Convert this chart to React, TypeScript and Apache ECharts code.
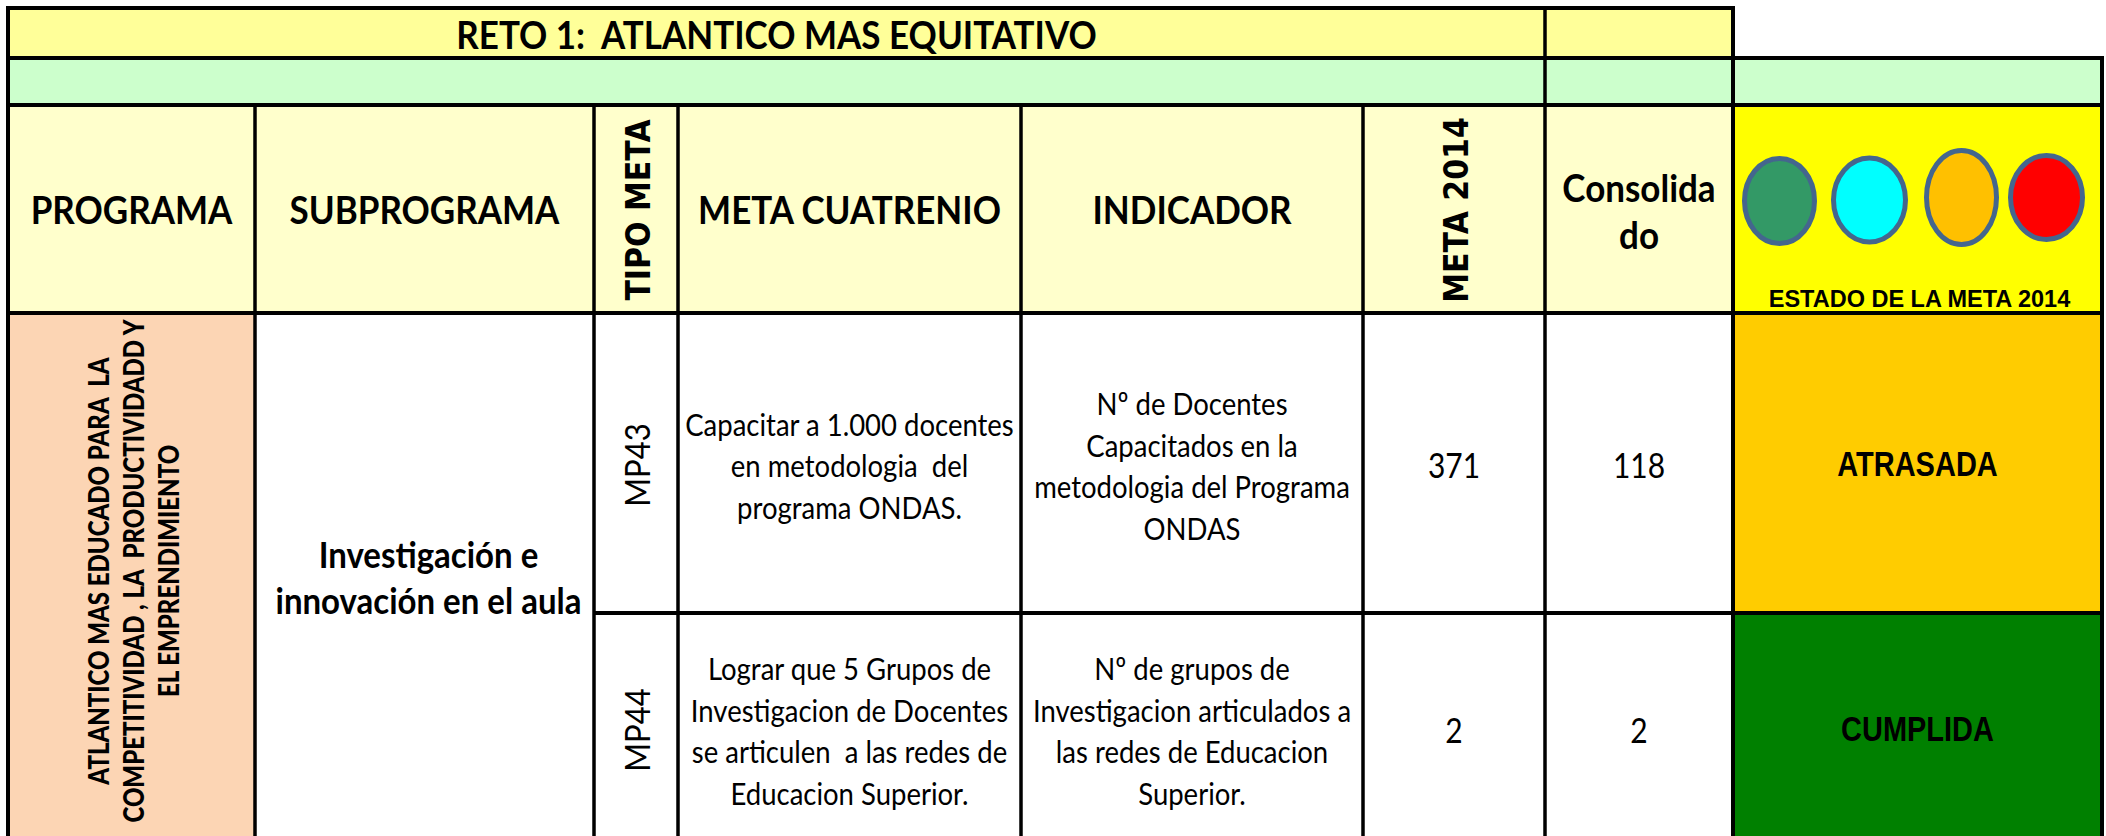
import React, { useEffect, useRef } from "react";
import * as echarts from "echarts";

// ---------- data ----------
const TITLE = "RETO 1:  ATLANTICO MAS EQUITATIVO";
const HEADERS = ["PROGRAMA", "SUBPROGRAMA", "TIPO META", "META CUATRENIO", "INDICADOR", "META 2014", "Consolida\ndo"];
const ESTADO_LABEL = "ESTADO DE LA META 2014";
const ESTADO_LEGEND_COLORS = ["#339966", "#00FFFF", "#FFC000", "#FF0000"];
const PROGRAMA = "ATLANTICO MAS EDUCADO PARA  LA\nCOMPETITIVIDAD , LA  PRODUCTIVIDADD Y\nEL EMPRENDIMIENTO";
const SUBPROGRAMA = "Investigación e\ninnovación en el aula";
const TIPO_META = ["MP43", "MP44"];
const META_CUATRENIO = [
  "Capacitar a 1.000 docentes\nen metodologia  del\nprograma ONDAS.",
  "Lograr que 5 Grupos de\nInvestigacion de Docentes\nse articulen  a las redes de\nEducacion Superior.",
];
const INDICADOR = [
  "Nº de Docentes\nCapacitados en la\nmetodologia del Programa\nONDAS",
  "Nº de grupos de\nInvestigacion articulados a\nlas redes de Educacion\nSuperior.",
];
const META_2014 = [371, 2];
const CONSOLIDADO = [118, 2];
const ESTADO = ["ATRASADA", "CUMPLIDA"];
const ESTADO_FILL = ["#FFCC00", "#008000"];

// ---------- layout ----------
const COLS = [8, 255, 594, 678, 1021, 1363, 1545, 1733, 2102];
const ROWS = [8, 58, 105, 313, 613, 848];
const ELLIPSES = [
  [1779.5, 201, 35, 42.5],
  [1869.5, 200, 36, 42],
  [1961.5, 197.5, 35, 47],
  [2046.5, 197.5, 36, 42],
];

const CAL = "Lato";

function txt(text: string, x: number, y: number, o: any = {}) {
  const sy = o.sy || 1;
  const lh = o.lh || Math.round((o.size || 26) * 1.25);
  return {
    type: "text",
    x,
    y,
    rotation: o.rotation || 0,
    scaleY: sy,
    z: 10,
    style: {
      text,
      fill: "#000",
      fontFamily: o.family || CAL,
      fontSize: o.size || 26,
      fontWeight: o.weight || "normal",
      align: "center",
      verticalAlign: "middle",
      lineHeight: lh / sy,
    },
  };
}

function rect(x1: number, y1: number, x2: number, y2: number, fill: string) {
  return { type: "rect", z: 1, shape: { x: x1, y: y1, width: x2 - x1, height: y2 - y1 }, style: { fill } };
}

function line(x1: number, y1: number, x2: number, y2: number, w = 3) {
  return { type: "line", z: 20, shape: { x1, y1, x2, y2 }, style: { stroke: "#000", lineWidth: w } };
}

function buildGraphic() {
  const g: any[] = [];
  const cx = (i: number) => (COLS[i] + COLS[i + 1]) / 2;
  const cy = (i: number) => (ROWS[i] + ROWS[i + 1]) / 2;

  // fills
  g.push(rect(COLS[0], ROWS[0], COLS[7], ROWS[1], "#FFFF99"));
  g.push(rect(COLS[0], ROWS[1], COLS[8], ROWS[2], "#CCFFCC"));
  g.push(rect(COLS[0], ROWS[2], COLS[7], ROWS[3], "#FFFFCC"));
  g.push(rect(COLS[7], ROWS[2], COLS[8], ROWS[3], "#FFFF00"));
  g.push(rect(COLS[0], ROWS[3], COLS[1], ROWS[5], "#FCD5B4"));
  g.push(rect(COLS[1], ROWS[3], COLS[7], ROWS[5], "#FFFFFF"));
  g.push(rect(COLS[7], ROWS[3], COLS[8], ROWS[4], ESTADO_FILL[0]));
  g.push(rect(COLS[7], ROWS[4], COLS[8], ROWS[5], ESTADO_FILL[1]));

  // lines
  g.push(line(COLS[0], ROWS[0], COLS[7], ROWS[0], 4));
  g.push(line(COLS[0], ROWS[1], COLS[8], ROWS[1], 4));
  g.push(line(COLS[0], ROWS[2], COLS[8], ROWS[2], 4));
  g.push(line(COLS[0], ROWS[3], COLS[8], ROWS[3], 4));
  g.push(line(COLS[2], ROWS[4], COLS[8], ROWS[4], 4));
  g.push(line(COLS[0], ROWS[0] - 2, COLS[0], ROWS[5], 4));
  for (let i = 1; i <= 5; i++) g.push(line(COLS[i], ROWS[2], COLS[i], ROWS[5], 3.5));
  g.push(line(COLS[6], ROWS[0], COLS[6], ROWS[5], 3.5));
  g.push(line(COLS[7], ROWS[0] - 2, COLS[7], ROWS[5], 4));
  g.push(line(COLS[8], ROWS[1] - 2, COLS[8], ROWS[5], 4));

  // title
  g.push(txt(TITLE, (COLS[0] + COLS[6]) / 2, cy(0) + 1, { size: 35, weight: "bold", sy: 1.1 }));

  // headers
  const hy = cy(2);
  const H = { size: 35, weight: "bold", sy: 1.08 };
  g.push(txt(HEADERS[0], cx(0), hy, H));
  g.push(txt(HEADERS[1], cx(1), hy, H));
  g.push(txt(HEADERS[2], cx(2) + 2, hy + 1, { size: 30, weight: "bold", family: "DejaVu Sans", rotation: Math.PI / 2, sy: 1.12 }));
  g.push(txt(HEADERS[3], cx(3), hy, H));
  g.push(txt(HEADERS[4], cx(4), hy, H));
  g.push(txt(HEADERS[5], cx(5) + 2, hy + 1, { size: 30, weight: "bold", family: "DejaVu Sans", rotation: Math.PI / 2, sy: 1.12 }));
  g.push(txt(HEADERS[6], cx(6), hy + 2, { ...H, lh: 47 }));

  ELLIPSES.forEach((e, i) => {
    g.push({
      type: "ellipse",
      z: 5,
      shape: { cx: e[0], cy: e[1], rx: e[2], ry: e[3] },
      style: { fill: ESTADO_LEGEND_COLORS[i], stroke: "#44668E", lineWidth: 5 },
    });
  });
  g.push(txt(ESTADO_LABEL, cx(7) + 2, 298, { size: 23.5, weight: "bold", family: "Liberation Sans", sy: 1.05 }));

  // body
  g.push(txt(PROGRAMA, cx(0) + 2, 571, { size: 24, weight: "900", lh: 35, rotation: Math.PI / 2, sy: 1.18 }));
  g.push(txt(SUBPROGRAMA, cx(1) + 4, 577, { size: 33, weight: "bold", lh: 46, sy: 1.08 }));

  for (let r = 0; r < 2; r++) {
    const y = r === 0 ? 465 : 730;
    g.push(txt(TIPO_META[r], cx(2), y, { size: 31, rotation: Math.PI / 2, sy: 1.15 }));
    g.push(txt(META_CUATRENIO[r], cx(3), y, { size: 27.5, lh: 41.5, sy: 1.15 }));
    g.push(txt(INDICADOR[r], cx(4), y, { size: 27.5, lh: 41.5, sy: 1.15 }));
    g.push(txt(String(META_2014[r]), cx(5), y, { size: 30, sy: 1.15 }));
    g.push(txt(String(CONSOLIDADO[r]), cx(6), y, { size: 30, sy: 1.15 }));
    g.push(txt(ESTADO[r], cx(7), y - 1, { size: 29, weight: "bold", family: "Liberation Sans", sy: 1.18 }));
  }
  return g;
}

export default function App() {
  const ref = useRef<HTMLDivElement>(null);
  useEffect(() => {
    if (!ref.current) return;
    const chart = echarts.init(ref.current, undefined, { renderer: "svg" });
    chart.setOption({
      animation: false,
      backgroundColor: "#FFFFFF",
      graphic: { elements: buildGraphic() },
    });
    return () => chart.dispose();
  }, []);
  return (
    <div
      ref={ref}
      style={{ position: "fixed", left: 0, top: 0, width: 2106, height: 836, overflow: "hidden" }}
    />
  );
}
